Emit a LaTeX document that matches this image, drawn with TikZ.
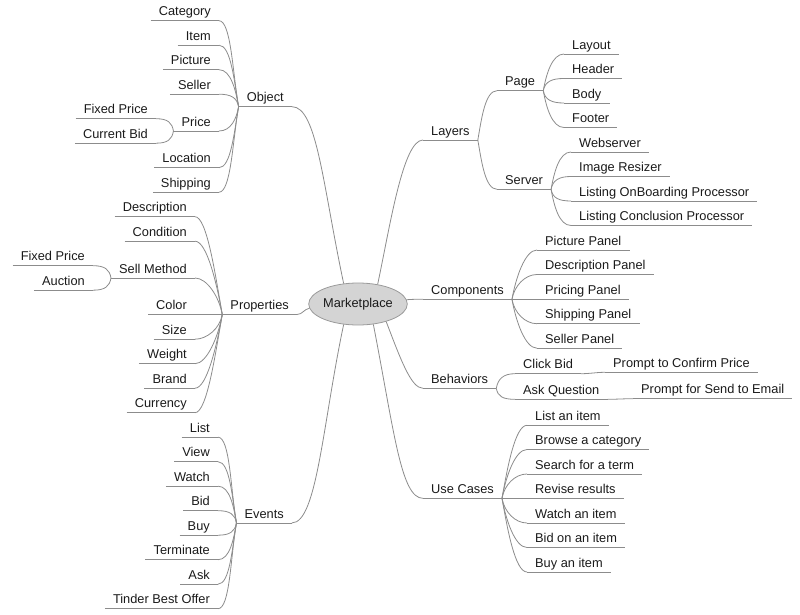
\documentclass[tikz,border=0pt]{standalone}
\usepackage{fontspec}
\setmainfont{Liberation Sans}
\usepackage{tikz}
\usetikzlibrary{shapes.geometric,positioning}
\definecolor{linegrey}{HTML}{8C8C8C}
\definecolor{hubgrey}{HTML}{D4D4D4}
\definecolor{hubline}{HTML}{9A9A9A}
\definecolor{textgrey}{HTML}{1A1A1A}
\tikzstyle{connector} = [draw=linegrey, line width=0.8pt]
\tikzstyle{topic} = [inner xsep=8pt, inner ysep=0pt, text height=9pt, text depth=4.7pt,
text=textgrey, font=\fontsize{12.8}{15}\selectfont,
append after command={(\tikzlastnode.south west) edge[connector] (\tikzlastnode.south east)}]
\tikzstyle{lefttopic} = [topic, anchor=south east]
\tikzstyle{righttopic} = [topic, anchor=south west]
\tikzstyle{hub} = [ellipse, draw=hubline, fill=hubgrey, line width=0.8pt, minimum width=92pt,
minimum height=42pt, inner sep=0pt, text=textgrey, font=\fontsize{12.8}{15}\selectfont]
\tikzstyle{lup} = [out=100, in=0, in distance=12pt]
\tikzstyle{ldown} = [out=260, in=0, in distance=12pt]
\tikzstyle{rup} = [out=80, in=180, in distance=12pt]
\tikzstyle{rdown} = [out=280, in=180, in distance=12pt]

\begin{document}
\begin{tikzpicture}[x=1pt, y=1pt]
    \useasboundingbox (0,0) rectangle (800,-615);
    % Nodes
    \node [hub] (market) at (358,-304) {Marketplace};

    \node [lefttopic] (object) at (292,-106.7) {Object};
    \node [lefttopic] (category) at (219,-20.7) {Category};
    \node [lefttopic] (item) at (219,-45.2) {Item};
    \node [lefttopic] (picture) at (219,-69.7) {Picture};
    \node [lefttopic] (seller) at (219,-94.2) {Seller};
    \node [lefttopic] (price) at (219,-131) {Price};
    \node [lefttopic] (fixedprice) at (156,-118.7) {Fixed Price};
    \node [lefttopic] (currentbid) at (156,-143.2) {Current Bid};
    \node [lefttopic] (location) at (219,-167.7) {Location};
    \node [lefttopic] (shipping) at (219,-192.2) {Shipping};

    \node [lefttopic] (properties) at (297,-314.5) {Properties};
    \node [lefttopic] (description) at (195,-216.7) {Description};
    \node [lefttopic] (condition) at (195,-241.2) {Condition};
    \node [lefttopic] (sellmethod) at (195,-278) {Sell Method};
    \node [lefttopic] (fixedmethod) at (93,-265.7) {Fixed Price};
    \node [lefttopic] (auction) at (93,-290.2) {Auction};
    \node [lefttopic] (color) at (195,-314.5) {Color};
    \node [lefttopic] (size) at (195,-339.2) {Size};
    \node [lefttopic] (weight) at (195,-363.7) {Weight};
    \node [lefttopic] (brand) at (195,-388.2) {Brand};
    \node [lefttopic] (currency) at (195,-412.7) {Currency};

    \node [lefttopic] (events) at (292,-522.9) {Events};
    \node [lefttopic] (list) at (218,-437.2) {List};
    \node [lefttopic] (view) at (218,-461.7) {View};
    \node [lefttopic] (watch) at (218,-486.2) {Watch};
    \node [lefttopic] (bid) at (218,-510.7) {Bid};
    \node [lefttopic] (buy) at (218,-535.2) {Buy};
    \node [lefttopic] (terminate) at (218,-559.7) {Terminate};
    \node [lefttopic] (ask) at (218,-584.2) {Ask};
    \node [lefttopic] (tinder) at (218,-608.7) {Tinder Best Offer};

    \node [righttopic] (layers) at (423,-140) {Layers};
    \node [righttopic] (page) at (497,-90.7) {Page};
    \node [righttopic] (layout) at (564,-54) {Layout};
    \node [righttopic] (header) at (564,-78.5) {Header};
    \node [righttopic] (body) at (564,-103) {Body};
    \node [righttopic] (footer) at (564,-127.5) {Footer};
    \node [righttopic] (server) at (497,-189.3) {Server};
    \node [righttopic] (webserver) at (571,-152) {Webserver};
    \node [righttopic] (resizer) at (571,-176.5) {Image Resizer};
    \node [righttopic] (onboarding) at (571,-201) {Listing OnBoarding Processor};
    \node [righttopic] (conclusion) at (571,-225.5) {Listing Conclusion Processor};

    \node [righttopic] (components) at (423,-299.3) {Components};
    \node [righttopic] (picturepanel) at (537,-250) {Picture Panel};
    \node [righttopic] (descriptionpanel) at (537,-274.5) {Description Panel};
    \node [righttopic] (pricingpanel) at (537,-299.3) {Pricing Panel};
    \node [righttopic] (shippingpanel) at (537,-323.7) {Shipping Panel};
    \node [righttopic] (sellerpanel) at (537,-348.2) {Seller Panel};

    \node [righttopic] (behaviors) at (423,-388.3) {Behaviors};
    \node [righttopic] (clickbid) at (515,-373.7) {Click Bid};
    \node [righttopic] (confirmprice) at (605,-372.3) {Prompt to Confirm Price};
    \node [righttopic] (askquestion) at (515,-399.3) {Ask Question};
    \node [righttopic] (sendemail) at (633,-398.7) {Prompt for Send to Email};

    \node [righttopic] (usecases) at (423,-498.3) {Use Cases};
    \node [righttopic] (listitem) at (527,-425.3) {List an item};
    \node [righttopic] (browse) at (527,-449.5) {Browse a category};
    \node [righttopic] (search) at (527,-474) {Search for a term};
    \node [righttopic] (revise) at (527,-498.3) {Revise results};
    \node [righttopic] (watchitem) at (527,-523) {Watch an item};
    \node [righttopic] (bidon) at (527,-547.5) {Bid on an item};
    \node [righttopic] (buyitem) at (527,-572) {Buy an item};

    % main branches
    \draw[connector] (market.125) to[out=102, in=0, out distance=100pt, in distance=25pt] (object.south east);
    \draw[connector] (market.185) to[out=190, in=0] (properties.south east);
    \draw[connector] (market.235) to[out=258, in=0, out distance=100pt, in distance=25pt] (events.south east);
    \draw[connector] (market.45) to[out=78, in=180, out distance=60pt, in distance=20pt] (layers.south west);
    \draw[connector] (market.5) to[out=5, in=180] (components.south west);
    \draw[connector] (market.-32) to[out=291, in=180, out distance=40pt, in distance=12pt] (behaviors.south west);
    \draw[connector] (market.-53) to[out=281, in=180, out distance=110pt, in distance=22pt] (usecases.south west);

    % object
    \draw[connector] (object.south west) to[lup] (category.south east);
    \draw[connector] (object.south west) to[lup] (item.south east);
    \draw[connector] (object.south west) to[lup] (picture.south east);
    \draw[connector] (object.south west) to[lup] (seller.south east);
    \draw[connector] (object.south west) to[ldown] (price.south east);
    \draw[connector] (object.south west) to[ldown] (location.south east);
    \draw[connector] (object.south west) to[ldown] (shipping.south east);
    \draw[connector] (price.south west) to[lup] (fixedprice.south east);
    \draw[connector] (price.south west) to[ldown] (currentbid.south east);

    % properties
    \draw[connector] (properties.south west) to[lup] (description.south east);
    \draw[connector] (properties.south west) to[lup] (condition.south east);
    \draw[connector] (properties.south west) to[lup] (sellmethod.south east);
    \draw[connector] (properties.south west) -- (color.south east);
    \draw[connector] (properties.south west) to[ldown] (size.south east);
    \draw[connector] (properties.south west) to[ldown] (weight.south east);
    \draw[connector] (properties.south west) to[ldown] (brand.south east);
    \draw[connector] (properties.south west) to[ldown] (currency.south east);
    \draw[connector] (sellmethod.south west) to[lup] (fixedmethod.south east);
    \draw[connector] (sellmethod.south west) to[ldown] (auction.south east);

    % events
    \draw[connector] (events.south west) to[lup] (list.south east);
    \draw[connector] (events.south west) to[lup] (view.south east);
    \draw[connector] (events.south west) to[lup] (watch.south east);
    \draw[connector] (events.south west) to[lup] (bid.south east);
    \draw[connector] (events.south west) to[ldown] (buy.south east);
    \draw[connector] (events.south west) to[ldown] (terminate.south east);
    \draw[connector] (events.south west) to[ldown] (ask.south east);
    \draw[connector] (events.south west) to[ldown] (tinder.south east);

    % layers
    \draw[connector] (layers.south east) to[rup] (page.south west);
    \draw[connector] (layers.south east) to[rdown] (server.south west);
    \draw[connector] (page.south east) to[rup] (layout.south west);
    \draw[connector] (page.south east) to[rup] (header.south west);
    \draw[connector] (page.south east) to[rdown] (body.south west);
    \draw[connector] (page.south east) to[rdown] (footer.south west);
    \draw[connector] (server.south east) to[rup] (webserver.south west);
    \draw[connector] (server.south east) to[rup] (resizer.south west);
    \draw[connector] (server.south east) to[rdown] (onboarding.south west);
    \draw[connector] (server.south east) to[rdown] (conclusion.south west);

    % components
    \draw[connector] (components.south east) to[rup] (picturepanel.south west);
    \draw[connector] (components.south east) to[rup] (descriptionpanel.south west);
    \draw[connector] (components.south east) -- (pricingpanel.south west);
    \draw[connector] (components.south east) to[rdown] (shippingpanel.south west);
    \draw[connector] (components.south east) to[rdown] (sellerpanel.south west);

    % behaviors
    \draw[connector] (behaviors.south east) to[rup] (clickbid.south west);
    \draw[connector] (behaviors.south east) to[rdown] (askquestion.south west);
    \draw[connector] (clickbid.south east) to[out=0, in=180] (confirmprice.south west);
    \draw[connector] (askquestion.south east) to[out=0, in=180] (sendemail.south west);

    % use cases
    \draw[connector] (usecases.south east) to[rup] (listitem.south west);
    \draw[connector] (usecases.south east) to[rup] (browse.south west);
    \draw[connector] (usecases.south east) to[rup] (search.south west);
    \draw[connector] (usecases.south east) -- (revise.south west);
    \draw[connector] (usecases.south east) to[rdown] (watchitem.south west);
    \draw[connector] (usecases.south east) to[rdown] (bidon.south west);
    \draw[connector] (usecases.south east) to[rdown] (buyitem.south west);

\end{tikzpicture}
\end{document}
